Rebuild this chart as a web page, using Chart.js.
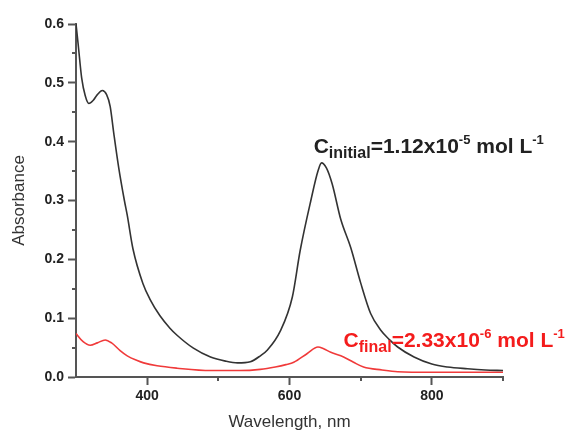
<!DOCTYPE html>
<html>
<head>
<meta charset="utf-8">
<script src="https://cdn.jsdelivr.net/npm/chart.js@4.4.0/dist/chart.umd.min.js"></script>
<style>
  html, body { margin: 0; padding: 0; background: #fff; }
</style>
</head>
<body>
<canvas id="absChart" width="570" height="433"></canvas>
<script>
// initial solution (black)
const initialWl = [300, 303, 308, 313, 318, 324, 330, 337, 343, 348, 353, 360, 368, 372, 380, 394, 404, 418, 432, 442, 465, 489, 510, 527, 545, 559, 569, 587, 604, 615, 630, 640, 645, 652, 660, 672, 686, 700, 714, 728, 740, 752, 775, 800, 822, 850, 875, 900];
const initialAbs = [0.600, 0.566, 0.508, 0.478, 0.465, 0.470, 0.480, 0.487, 0.480, 0.460, 0.415, 0.356, 0.300, 0.275, 0.218, 0.159, 0.132, 0.104, 0.083, 0.071, 0.049, 0.034, 0.027, 0.024, 0.026, 0.036, 0.046, 0.078, 0.136, 0.215, 0.300, 0.350, 0.364, 0.355, 0.328, 0.268, 0.220, 0.160, 0.108, 0.080, 0.064, 0.051, 0.034, 0.022, 0.017, 0.014, 0.012, 0.011];

// final solution (red)
const finalWl = [300, 310, 320, 330, 341, 350, 362, 372, 386, 395, 414, 442, 489, 530, 559, 580, 595, 606, 625, 640, 648, 658, 676, 690, 704, 730, 752, 800, 900];
const finalAbs = [0.074, 0.060, 0.054, 0.058, 0.063, 0.058, 0.045, 0.036, 0.028, 0.024, 0.019, 0.015, 0.011, 0.011, 0.013, 0.017, 0.021, 0.025, 0.040, 0.051, 0.048, 0.042, 0.034, 0.025, 0.017, 0.012, 0.009, 0.008, 0.008];

const xMajor = [400, 600, 800];
const xMinor = [500, 700, 900];
const yMajor = [0, 0.1, 0.2, 0.3, 0.4, 0.5, 0.6];
const yMinor = [0.05, 0.15, 0.25, 0.35, 0.45, 0.55];

const axisColor = '#555';
const textColor = '#222';
const redColor = '#f41c1c';
const fontFamily = "'Liberation Sans', Arial, sans-serif";

function toPoints(xs, ys) {
  return xs.map((v, i) => ({ x: v, y: ys[i] }));
}

// minor ticks, outward like the original axes
const minorTicks = {
  id: 'minorTicks',
  afterDraw(chart) {
    const { ctx, scales: { x, y } } = chart;
    ctx.save();
    ctx.strokeStyle = axisColor;
    ctx.lineWidth = 2;
    ctx.beginPath();
    xMinor.forEach(v => {
      const px = Math.round(x.getPixelForValue(v));
      ctx.moveTo(px, x.top);
      ctx.lineTo(px, x.top + 4);
    });
    yMinor.forEach(v => {
      const py = Math.round(y.getPixelForValue(v));
      ctx.moveTo(y.right, py);
      ctx.lineTo(y.right - 4, py);
    });
    ctx.stroke();
    ctx.restore();
  }
};

// text with sub/superscripts
function richText(ctx, parts, x, y, color) {
  ctx.save();
  ctx.fillStyle = color;
  ctx.textBaseline = 'alphabetic';
  let cx = x;
  parts.forEach(p => {
    ctx.font = 'bold ' + p.size + 'px ' + fontFamily;
    ctx.fillText(p.t, cx, y + (p.dy || 0));
    cx += ctx.measureText(p.t).width;
  });
  ctx.restore();
}

const labels = {
  id: 'labels',
  afterDatasetsDraw(chart) {
    const { ctx, scales: { x, y } } = chart;
    richText(ctx, [
      { t: 'C', size: 21 },
      { t: 'initial', size: 16, dy: 5 },
      { t: '=1.12x10', size: 21 },
      { t: '-5', size: 13, dy: -9 },
      { t: ' mol L', size: 21 },
      { t: '-1', size: 13, dy: -9 }
    ], x.getPixelForValue(634), y.getPixelForValue(0.380), textColor);
    richText(ctx, [
      { t: 'C', size: 21 },
      { t: 'final', size: 16, dy: 5 },
      { t: '=2.33x10', size: 21 },
      { t: '-6', size: 13, dy: -9 },
      { t: ' mol L', size: 21 },
      { t: '-1', size: 13, dy: -9 }
    ], x.getPixelForValue(676), y.getPixelForValue(0.051), redColor);
  }
};

const data = {
  datasets: [{
    label: 'initial',
    data: toPoints(initialWl, initialAbs),
    borderColor: '#333',
    borderWidth: 1.6,
    pointRadius: 0,
    cubicInterpolationMode: 'monotone',
    fill: false
  }, {
    label: 'final',
    data: toPoints(finalWl, finalAbs),
    borderColor: '#f03a3a',
    borderWidth: 1.6,
    pointRadius: 0,
    cubicInterpolationMode: 'monotone',
    fill: false
  }]
};

const config = {
  type: 'line',
  data: data,
  options: {
    responsive: false,
    animation: false,
    devicePixelRatio: 1,
    layout: { padding: { top: 24, right: 67, bottom: 0, left: 0 } },
    plugins: {
      legend: { display: false },
      tooltip: { enabled: false }
    },
    scales: {
      x: {
        type: 'linear',
        min: 300,
        max: 900,
        afterBuildTicks: scale => { scale.ticks = xMajor.map(v => ({ value: v })); },
        afterFit: scale => { scale.height = 56; },
        grid: { drawOnChartArea: false, tickLength: 8, tickWidth: 2, tickColor: axisColor },
        border: { display: true, color: axisColor, width: 2 },
        ticks: {
          color: textColor,
          padding: 3,
          maxRotation: 0,
          font: { family: fontFamily, size: 14, weight: 'bold' }
        },
        title: {
          display: true,
          text: 'Wavelength, nm',
          color: '#333',
          padding: { top: 0, bottom: 0 },
          font: { family: fontFamily, size: 17 }
        }
      },
      y: {
        min: 0,
        max: 0.6,
        afterBuildTicks: scale => { scale.ticks = yMajor.map(v => ({ value: v })); },
        afterFit: scale => { scale.width = 76; },
        grid: { drawOnChartArea: false, tickLength: 8, tickWidth: 2, tickColor: axisColor },
        border: { display: true, color: axisColor, width: 2 },
        ticks: {
          color: textColor,
          padding: 4,
          callback: v => v.toFixed(1),
          font: { family: fontFamily, size: 14, weight: 'bold' }
        },
        title: {
          display: true,
          text: 'Absorbance',
          color: '#333',
          padding: { top: 9, bottom: 0 },
          font: { family: fontFamily, size: 17 }
        }
      }
    }
  },
  plugins: [minorTicks, labels]
};

const absChart = new Chart(document.getElementById('absChart'), config);
</script>
</body>
</html>
